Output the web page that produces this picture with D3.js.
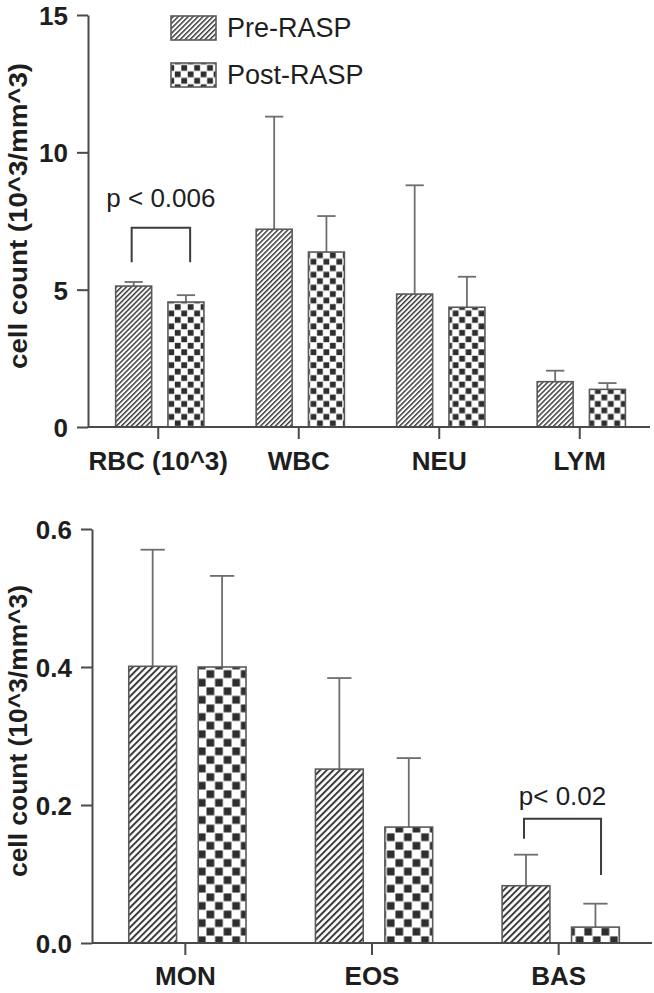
<!DOCTYPE html>
<html>
<head>
<meta charset="utf-8">
<script src="https://cdn.jsdelivr.net/npm/d3@7"></script>
<style>
  html, body { margin: 0; padding: 0; background: #fff; }
  svg { display: block; font-family: "Liberation Sans", Arial, Helvetica, sans-serif; }
</style>
</head>
<body>
<svg id="chart" width="654" height="993"></svg>
<script>
// ---------------- DATA ----------------
const seriesNames = ["Pre-RASP", "Post-RASP"];

const categoriesTop = ["RBC (10^3)", "WBC", "NEU", "LYM"];
const preTop      = [5.13, 7.20, 4.84, 1.65];
const preTopErr   = [0.15, 4.10, 3.96, 0.40];
const postTop     = [4.55, 6.37, 4.36, 1.37];
const postTopErr  = [0.25, 1.31, 1.11, 0.23];
const yTicksTop   = [0, 5, 10, 15];

const categoriesBottom = ["MON", "EOS", "BAS"];
const preBottom     = [0.401, 0.252, 0.083];
const preBottomErr  = [0.169, 0.132, 0.045];
const postBottom    = [0.400, 0.168, 0.023];
const postBottomErr = [0.132, 0.100, 0.034];
const yTicksBottom  = [0.0, 0.2, 0.4, 0.6];

const yLabel = "cell count (10^3/mm^3)";

// significance brackets: category, bracket top, leg ends (data units), label
const sigTop    = { category: "RBC (10^3)", top: 7.25, leftEnd: 6.0, rightEnd: 6.0, label: "p < 0.006", labelY: 8.0 };
const sigBottom = { category: "BAS", top: 0.18, leftEnd: 0.151, rightEnd: 0.0985, label: "p< 0.02", labelY: 0.2 };

// ---------------- DRAW ----------------
const svg = d3.select("#chart");
const defs = svg.append("defs");
const axisColor = "#4a4a4a";
const textColor = "#1e1e1e";
const fillDark = "#2e2e2e";

function makePatterns(id, cell, hatch) {
  const h = defs.append("pattern")
    .attr("id", "hatch-" + id)
    .attr("patternUnits", "userSpaceOnUse")
    .attr("width", hatch).attr("height", hatch)
    .attr("patternTransform", "rotate(45)");
  h.append("rect").attr("width", hatch).attr("height", hatch).attr("fill", "#fff");
  h.append("rect").attr("x", 0).attr("width", hatch * 0.42).attr("height", hatch).attr("fill", "#3a3a3a");

  const c = defs.append("pattern")
    .attr("id", "check-" + id)
    .attr("patternUnits", "userSpaceOnUse")
    .attr("width", cell * 2).attr("height", cell * 2);
  c.append("rect").attr("width", cell * 2).attr("height", cell * 2).attr("fill", "#fff");
  const s = cell * 0.9, o = (cell - s) / 2;
  c.append("rect").attr("x", o).attr("y", o).attr("width", s).attr("height", s).attr("fill", fillDark);
  c.append("rect").attr("x", cell + o).attr("y", cell + o).attr("width", s).attr("height", s).attr("fill", fillDark);
}

function drawPanel(cfg) {
  const { id, categories, pre, preErr, post, postErr, domain, ticks, xRange, yRange,
          tickFormat, labelBaseline, yLabelX, sig } = cfg;
  const x = d3.scaleBand().domain(categories).range(xRange).padding(0);
  const y = d3.scaleLinear().domain(domain).range(yRange);
  const bw = x.bandwidth();
  makePatterns(id, bw * 0.046, bw * 0.025);

  const g = svg.append("g");

  // bars
  const barW = bw * 0.256;
  const preOff = bw * 0.197, postOff = bw * 0.197 + barW + bw * 0.116;
  const capW = bw * 0.13;
  const series = [
    { vals: pre, errs: preErr, off: preOff, fill: "url(#hatch-" + id + ")" },
    { vals: post, errs: postErr, off: postOff, fill: "url(#check-" + id + ")" }
  ];
  series.forEach(s => {
    const data = categories.map((c, i) => ({ c, v: s.vals[i], e: s.errs[i] }));
    const eg = g.append("g").attr("stroke", "#6e6e6e").attr("stroke-width", 1.8);
    eg.selectAll("line.v").data(data).join("line")
      .attr("x1", d => x(d.c) + s.off + barW / 2).attr("x2", d => x(d.c) + s.off + barW / 2)
      .attr("y1", d => y(d.v)).attr("y2", d => y(d.v + d.e));
    eg.selectAll("line.c").data(data).join("line")
      .attr("x1", d => x(d.c) + s.off + barW / 2 - capW / 2).attr("x2", d => x(d.c) + s.off + barW / 2 + capW / 2)
      .attr("y1", d => y(d.v + d.e)).attr("y2", d => y(d.v + d.e));
    g.append("g").selectAll("rect").data(data).join("rect")
      .attr("x", d => x(d.c) + s.off)
      .attr("y", d => y(d.v))
      .attr("width", barW)
      .attr("height", d => y(0) - y(d.v))
      .attr("fill", s.fill)
      .attr("stroke", "#5a5a5a")
      .attr("stroke-width", 1.6);
  });

  // y axis
  const ya = g.append("g").attr("transform", `translate(${xRange[0]},0)`)
    .call(d3.axisLeft(y).tickValues(ticks).tickFormat(tickFormat).tickSize(11).tickSizeOuter(0).tickPadding(9));
  ya.select(".domain").attr("stroke", axisColor).attr("stroke-width", 2);
  ya.selectAll(".tick line").attr("stroke", axisColor).attr("stroke-width", 2);
  ya.selectAll(".tick text").attr("fill", textColor).attr("font-size", 26).attr("font-weight", "bold")
    .attr("dy", "0.36em");

  // x axis
  const xa = g.append("g").attr("transform", `translate(0,${yRange[0]})`)
    .call(d3.axisBottom(x).tickSize(12).tickSizeOuter(0));
  xa.select(".domain").attr("stroke", axisColor).attr("stroke-width", 2)
    .attr("d", `M${xRange[0]},0H${xRange[1]}`);
  xa.selectAll(".tick line").attr("stroke", axisColor).attr("stroke-width", 2);
  xa.selectAll(".tick text").attr("fill", textColor).attr("font-size", 26).attr("font-weight", "bold")
    .attr("dy", 0).attr("y", labelBaseline);

  // y label
  g.append("text")
    .attr("transform", `translate(${yLabelX},${(yRange[0] + yRange[1]) / 2 - 5}) rotate(-90)`)
    .attr("text-anchor", "middle")
    .attr("font-size", 26).attr("font-weight", "bold").attr("fill", textColor)
    .attr("textLength", cfg.yLabelLen).attr("lengthAdjust", "spacingAndGlyphs")
    .text(yLabel);

  // significance bracket
  const lx = x(sig.category) + preOff + barW / 2 - 2;
  const rx = x(sig.category) + postOff + barW / 2 + bw * 0.03;
  g.append("path")
    .attr("d", `M${lx},${y(sig.leftEnd)}V${y(sig.top)}H${rx}V${y(sig.rightEnd)}`)
    .attr("fill", "none").attr("stroke", "#3c3c3c").attr("stroke-width", 2);
  g.append("text")
    .attr("x", (lx + rx) / 2).attr("y", y(sig.labelY))
    .attr("text-anchor", "middle").attr("font-size", 26).attr("fill", textColor)
    .text(sig.label);
}

drawPanel({
  id: "top", categories: categoriesTop, pre: preTop, preErr: preTopErr, post: postTop, postErr: postTopErr,
  domain: [0, 15], ticks: yTicksTop, xRange: [88, 650], yRange: [427, 15],
  tickFormat: d3.format("d"), labelBaseline: 43, yLabelX: 27, yLabelLen: 306, sig: sigTop
});
drawPanel({
  id: "bot", categories: categoriesBottom, pre: preBottom, preErr: preBottomErr, post: postBottom, postErr: postBottomErr,
  domain: [0, 0.6], ticks: yTicksBottom, xRange: [92, 652], yRange: [943, 529],
  tickFormat: d3.format(".1f"), labelBaseline: 42, yLabelX: 27, yLabelLen: 292, sig: sigBottom
});

// legend (uses top-panel patterns)
const legend = svg.append("g");
const legendRows = seriesNames.map((n, i) => ({ n, fill: i === 0 ? "url(#hatch-top)" : "url(#check-top)", i }));
legend.selectAll("rect").data(legendRows).join("rect")
  .attr("x", 171).attr("y", d => 16 + d.i * 47).attr("width", 45).attr("height", 24)
  .attr("fill", d => d.fill).attr("stroke", "#5a5a5a").attr("stroke-width", 1.6);
legend.selectAll("text").data(legendRows).join("text")
  .attr("x", 227).attr("y", d => 37 + d.i * 46.5)
  .attr("font-size", 27).attr("fill", textColor)
  .text(d => d.n);
</script>
</body>
</html>
